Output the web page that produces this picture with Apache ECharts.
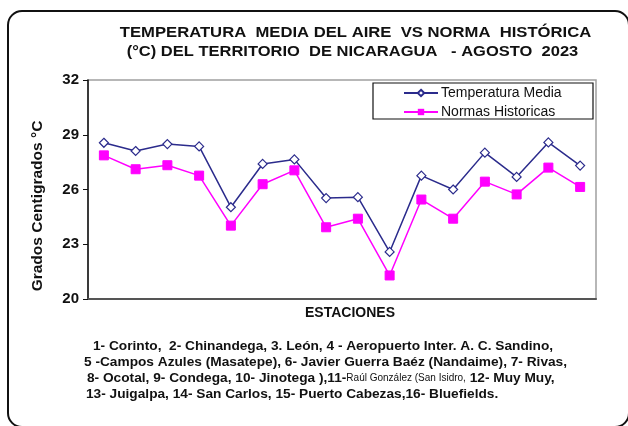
<!DOCTYPE html>
<html><head><meta charset="utf-8">
<script src="https://cdn.jsdelivr.net/npm/echarts@6/dist/echarts.min.js"></script>
<style>html,body{margin:0;padding:0;background:#fff}#c{width:628px;height:426px}</style>
</head><body><div id="c"></div>
<script>
var stations = ['1','2','3','4','5','6','7','8','9','10','11','12','13','14','15','16'];
var temperaturaMedia = [28.56, 28.11, 28.49, 28.36, 25.03, 27.40, 27.65, 25.53, 25.58, 22.58, 26.76, 26.00, 28.02, 26.69, 28.58, 27.31];
var normasHistoricas = [27.87, 27.11, 27.33, 26.76, 24.02, 26.29, 27.05, 23.93, 24.40, 21.29, 25.45, 24.40, 26.43, 25.73, 27.20, 26.14];
var yTicks = [20, 23, 26, 29, 32];
var titleLines = ['TEMPERATURA  MEDIA DEL AIRE  VS NORMA  HISTÓRICA', '(°C) DEL TERRITORIO  DE NICARAGUA   - AGOSTO  2023'];
var yName = 'Grados Centigrados °C';
var xName = 'ESTACIONES';
var noteLines = [
  '1- Corinto,  2- Chinandega, 3. León, 4 - Aeropuerto Inter. A. C. Sandino,',
  '5 -Campos Azules (Masatepe), 6- Javier Guerra Baéz (Nandaime), 7- Rivas,',
  '8- Ocotal, 9- Condega, 10- Jinotega ),11-',
  '13- Juigalpa, 14- San Carlos, 15- Puerto Cabezas,16- Bluefields.'
];
var noteSmall = 'Raúl González (San Isidro,';
var noteEnd = ' 12- Muy Muy,';

var FF = "'Liberation Sans', Arial, sans-serif";
var chart = echarts.init(document.getElementById('c'));
var noteFont = 'bold 13.7px ' + FF;
var option = {
  animation: false,
  backgroundColor: '#fff',
  textStyle: {fontFamily: FF},
  grid: {left: 88, right: 32, top: 80, bottom: 127, show: true, borderColor: '#a0a0a0', borderWidth: 1.5, backgroundColor: '#fff'},
  xAxis: {
    type: 'category', data: stations, boundaryGap: true,
    axisLine: {lineStyle: {color: '#555', width: 2}},
    axisTick: {show: false}, axisLabel: {show: false}, splitLine: {show: false}
  },
  yAxis: {
    type: 'value', min: yTicks[0], max: yTicks[yTicks.length - 1], interval: 3,
    axisLine: {show: true, lineStyle: {color: '#111', width: 1.5}},
    axisTick: {show: true, length: 5, lineStyle: {color: '#111'}},
    axisLabel: {fontSize: 15, fontWeight: 'bold', color: '#111', margin: 9, fontFamily: FF},
    splitLine: {show: false}
  },
  legend: {
    orient: 'vertical', left: 403, top: 86, padding: 0, itemWidth: 34, itemHeight: 8, itemGap: 5,
    textStyle: {fontSize: 14, color: '#111', fontFamily: FF, padding: [0,0,0,-2]},
    data: ['Temperatura Media', 'Normas Historicas']
  },
  series: [
    {name: 'Temperatura Media', type: 'line', data: temperaturaMedia,
     symbol: 'diamond', symbolSize: 9,
     lineStyle: {color: '#2b2b8c', width: 1.5},
     itemStyle: {color: '#fff', borderColor: '#2b2b8c', borderWidth: 1.2}},
    {name: 'Normas Historicas', type: 'line', data: normasHistoricas,
     symbol: 'rect', symbolSize: 9,
     lineStyle: {color: '#ff00ff', width: 1.5},
     itemStyle: {color: '#ff00ff', borderColor: '#ff00ff'}}
  ],
  graphic: [
    {type: 'rect', shape: {x: 8, y: 11, width: 621, height: 416, r: 14}, style: {fill: 'none', stroke: '#111', lineWidth: 2}, z: 100},
    {type: 'rect', shape: {x: 373, y: 83, width: 220, height: 36}, style: {fill: 'none', stroke: '#111', lineWidth: 1.2}, z: 100},
    {type: 'text', x: 355.5, y: 33, scaleX: 1.11, style: {text: titleLines[0], x: 0, y: 0, font: 'bold 15px ' + FF, fill: '#111', textAlign: 'center', textVerticalAlign: 'middle'}, z: 100},
    {type: 'text', x: 352.5, y: 52, scaleX: 1.1, style: {text: titleLines[1], x: 0, y: 0, font: 'bold 15px ' + FF, fill: '#111', textAlign: 'center', textVerticalAlign: 'middle'}, z: 100},
    {type: 'text', x: 38, y: 206, rotation: Math.PI / 2, style: {text: yName, x: 0, y: 0, font: 'bold 15.5px ' + FF, fill: '#111', textAlign: 'center', textVerticalAlign: 'middle'}, z: 100},
    {type: 'text', style: {text: xName, x: 350, y: 313, font: 'bold 14px ' + FF, fill: '#111', textAlign: 'center', textVerticalAlign: 'middle'}, z: 100},
    {type: 'text', style: {text: noteLines[0], x: 93, y: 346, font: noteFont, fill: '#111', textVerticalAlign: 'middle'}, z: 100},
    {type: 'text', style: {text: noteLines[1], x: 84, y: 362, font: noteFont, fill: '#111', textVerticalAlign: 'middle'}, z: 100},
    {type: 'text', style: {rich: {a: {font: noteFont, fill: '#111'}, b: {font: '10px ' + FF, fill: '#111'}}, text: '{a|' + noteLines[2] + '}{b|' + noteSmall + '}{a|' + noteEnd + '}', x: 87, y: 378, textVerticalAlign: 'middle'}, z: 100},
    {type: 'text', style: {text: noteLines[3], x: 86, y: 394, font: noteFont, fill: '#111', textVerticalAlign: 'middle'}, z: 100}
  ]
};
chart.setOption(option);
</script></body></html>
